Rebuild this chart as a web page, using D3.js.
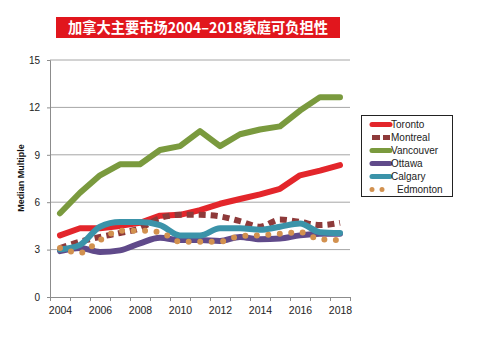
<!DOCTYPE html>
<html><head><meta charset="utf-8">
<script src="https://cdn.jsdelivr.net/npm/d3@7"></script>
<style>body{margin:0;background:#fff}svg{display:block}</style>
</head><body>
<svg id="c" width="484" height="339"></svg>
<script>
const title = "加拿大主要市场2004–2018家庭可负担性";
const years = [2004,2005,2006,2007,2008,2009,2010,2011,2012,2013,2014,2015,2016,2017,2018];
const xTickLabels = [2004,2006,2008,2010,2012,2014,2016,2018];
const yTicks = [0,3,6,9,12,15];
const seriesNames = ["Toronto","Montreal","Vancouver","Ottawa","Calgary","Edmonton"];
const toronto   = [3.9,4.35,4.35,4.5,4.7,5.15,5.2,5.5,5.9,6.2,6.5,6.85,7.7,8.0,8.35];
const montreal  = [3.1,3.5,3.8,4.05,4.35,5.0,5.2,5.2,5.1,4.8,4.45,4.9,4.75,4.55,4.7];
const vancouver = [5.3,6.6,7.7,8.4,8.4,9.3,9.55,10.5,9.55,10.3,10.6,10.8,11.8,12.65,12.65];
const ottawa    = [2.9,3.1,2.85,2.95,3.4,3.75,3.6,3.6,3.55,3.8,3.65,3.7,3.9,4.0,4.0];
const calgary   = [3.0,3.3,4.45,4.75,4.75,4.55,3.9,3.9,4.35,4.35,4.25,4.45,4.65,4.1,4.05];
const edmonton  = [3.1,2.8,3.6,4.2,4.2,4.1,3.5,3.5,3.5,3.85,3.9,4.0,4.1,3.65,3.6];
const seriesValues = [toronto,montreal,vancouver,ottawa,calgary,edmonton];

const colors = ["#e3262b","#8e3a3a","#7a9a3e","#604a8a","#3b93a9","#d2914f"];
const styles = [
  {dash:null, cap:"round", w:6, curve:d3.curveLinear},
  {dash:"7,5", cap:"butt", w:6, curve:d3.curveMonotoneX},
  {dash:null, cap:"round", w:6, curve:d3.curveLinear},
  {dash:null, cap:"round", w:6, curve:d3.curveMonotoneX},
  {dash:null, cap:"round", w:6, curve:d3.curveMonotoneX},
  {dash:"0,11.5", cap:"round", w:6, curve:d3.curveMonotoneX}
];

const svg = d3.select("#c");
const L=50, R=350, T=60, B=297;
const x = d3.scaleLinear().domain([2003.5,2018.5]).range([L,R]);
const y = d3.scaleLinear().domain([0,15]).range([B,T]);

// title
svg.append("rect").attr("x",56).attr("y",17).attr("width",284).attr("height",21).attr("fill","#e1161d");
svg.append("text").attr("x",68).attr("y",33)
  .attr("fill","#fff").attr("font-family","'Noto Sans CJK SC',sans-serif").attr("font-weight","bold")
  .attr("font-size",15).attr("textLength",260).attr("lengthAdjust","spacingAndGlyphs").text(title);

// gridlines
svg.append("g").selectAll("line").data(yTicks.filter(d=>d>0)).join("line")
  .attr("x1",L).attr("x2",R).attr("y1",d=>y(d)).attr("y2",d=>y(d))
  .attr("stroke","#a6a6a6").attr("stroke-width",1);

// y axis
const ya = svg.append("g").attr("transform",`translate(${L},0)`)
  .call(d3.axisLeft(y).tickValues(yTicks).tickSize(3).tickPadding(7).tickFormat(d3.format("d")));
ya.select(".domain").attr("stroke","#8c8c8c");
ya.selectAll(".tick line").attr("stroke","#8c8c8c");
ya.selectAll("text").attr("font-family","'Liberation Sans',Arial,sans-serif").attr("font-size",10).attr("fill","#222");

// x axis tick marks at category boundaries
const xb = svg.append("g").attr("transform",`translate(0,${B})`)
  .call(d3.axisBottom(x).tickValues(d3.range(2003.5,2019,1)).tickSize(4).tickFormat(""));
xb.select(".domain").attr("stroke","#8c8c8c");
xb.selectAll(".tick line").attr("stroke","#8c8c8c");
// x labels
const xl = svg.append("g").attr("transform",`translate(0,${B})`)
  .call(d3.axisBottom(x).tickValues(xTickLabels).tickSize(0).tickPadding(10).tickFormat(d3.format("d")));
xl.select(".domain").remove();
xl.selectAll("text").attr("font-family","'Liberation Sans Narrow','Arial Narrow',sans-serif").attr("font-size",10.5).attr("fill","#222");

// y label
svg.append("text").attr("transform","translate(24,178) rotate(-90)").attr("text-anchor","middle")
  .attr("font-family","'Liberation Sans',Arial,sans-serif").attr("font-weight","bold").attr("font-size",9).attr("fill","#111")
  .text("Median Multiple");

// lines
seriesValues.forEach((vals,i)=>{
  const st = styles[i];
  const line = d3.line().x((d,j)=>x(years[j])).y(d=>y(d)).curve(st.curve);
  svg.append("path").datum(vals).attr("d",line).attr("fill","none")
    .attr("stroke",colors[i]).attr("stroke-width",st.w).attr("stroke-linecap",st.cap)
    .attr("stroke-linejoin","round").attr("stroke-dasharray",st.dash);
});

// legend
const lg = svg.append("g");
lg.append("rect").attr("x",361.5).attr("y",115.5).attr("width",91).attr("height",81)
  .attr("fill","#fff").attr("stroke","#222").attr("stroke-width",1);
seriesNames.forEach((n,i)=>{
  const yy = 124.5 + i*13;
  const st = styles[i];
  lg.append("line").attr("x1",372).attr("x2", i===5?383:390).attr("y1",yy).attr("y2",yy)
    .attr("stroke",colors[i]).attr("stroke-width",5).attr("stroke-linecap",st.cap)
    .attr("stroke-dasharray", i===1?"8,3": (i===5?"0,10":null));
  lg.append("text").attr("x", i===5?397:391).attr("y",yy+3.6)
    .attr("font-family","'Liberation Sans',Arial,sans-serif").attr("font-size",10).attr("fill","#222").text(n);
});
</script>
</body></html>
